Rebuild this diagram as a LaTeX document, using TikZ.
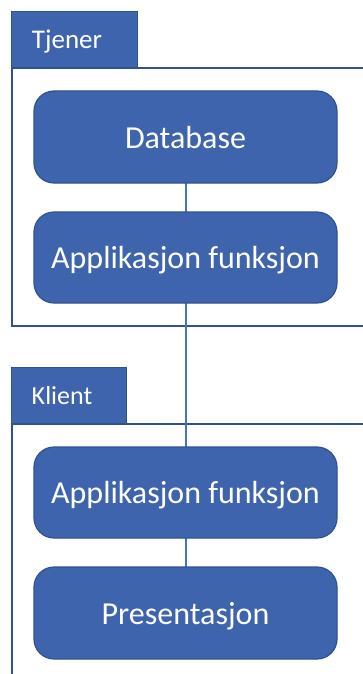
\documentclass[tikz,border=0pt]{standalone}
\usepackage{fontspec}
\setmainfont{Carlito}
\definecolor{boxfill}{HTML}{3F64AE}
\definecolor{boxedge}{HTML}{2F528F}
\definecolor{linkline}{HTML}{4472C4}
\begin{document}
\begin{tikzpicture}[x=1pt,y=-1pt,
  layerbox/.style={draw=boxedge,line width=1.2pt,fill=boxfill,rounded corners=20pt,
    minimum width=303pt,minimum height=92pt,text=white,font=\fontsize{32}{36}\selectfont,
    text height=22pt,text depth=0pt},
  tab/.style={draw=boxedge,line width=1.2pt,fill=boxfill,anchor=north west,inner sep=0pt},
  tablabel/.style={text=white,inner sep=0pt,anchor=base},
  frame/.style={draw=boxedge,line width=1.6pt},
  link/.style={draw=linkline,line width=2pt}]
\useasboundingbox (0,0) rectangle (363,674);

% server group
\node[tab,minimum width=126pt,minimum height=57pt] (tjener) at (11,11) {};
\node[tablabel,font=\fontsize{27}{30}\selectfont] (tjenerlabel) at (67,49) {Tjener};
\draw[frame] (12,68) -- (363,68);
\draw[frame] (12,68) -- (12,326) -- (363,326);

% client group
\node[tab,minimum width=115pt,minimum height=57pt] (klient) at (11,367) {};
\node[tablabel,font=\fontsize{26}{29}\selectfont] (klientlabel) at (62,404) {Klient};
\draw[frame] (12,424) -- (363,424);
\draw[frame] (12,424) -- (12,674);

% connections between layers
\coordinate (a) at (185.5,137);
\coordinate (b) at (185.5,257.5);
\coordinate (c) at (185.5,492.5);
\coordinate (d) at (185.5,613);
\draw[link] (a) -- (b) -- (c) -- (d);

% layers
\node[layerbox] (db) at (a) {Database};
\node[layerbox,minimum height=91pt] (appserver) at (b) {Applikasjon funksjon};
\node[layerbox,minimum height=91pt] (appclient) at (c) {Applikasjon funksjon};
\node[layerbox] (pres) at (d) {Presentasjon};
\end{tikzpicture}
\end{document}
